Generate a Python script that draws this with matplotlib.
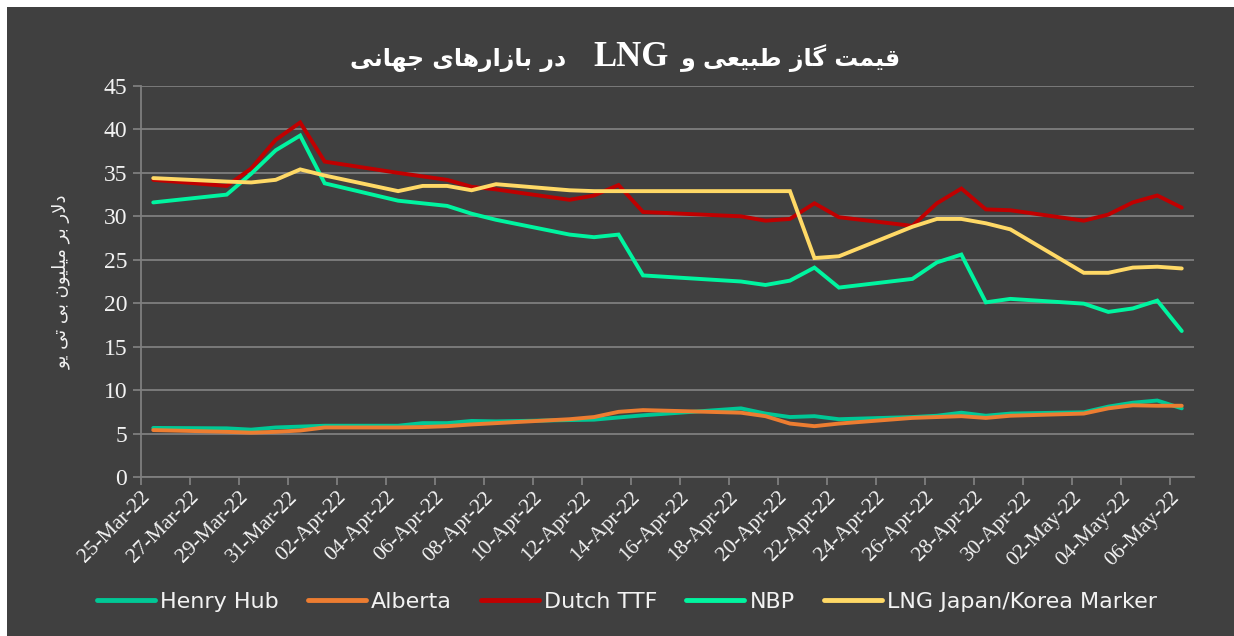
import numpy as np
import pandas as pd
import matplotlib
matplotlib.use("Agg")
import matplotlib.pyplot as plt
import matplotlib.dates as mdates
from matplotlib.patches import Rectangle

# trading days (15-Apr missing)
dates = ["2022-03-25", "2022-03-28", "2022-03-29", "2022-03-30", "2022-03-31", "2022-04-01",
         "2022-04-04", "2022-04-05", "2022-04-06", "2022-04-07", "2022-04-08",
         "2022-04-11", "2022-04-12", "2022-04-13", "2022-04-14",
         "2022-04-18", "2022-04-19", "2022-04-20", "2022-04-21", "2022-04-22",
         "2022-04-25", "2022-04-26", "2022-04-27", "2022-04-28", "2022-04-29",
         "2022-05-02", "2022-05-03", "2022-05-04", "2022-05-05", "2022-05-06"]

henry_hub = [5.65, 5.6, 5.45, 5.7, 5.8, 5.9, 5.9, 6.2, 6.2, 6.45, 6.4, 6.55, 6.6, 6.85, 7.1,
             7.9, 7.3, 6.9, 7.0, 6.65, 6.9, 7.05, 7.4, 7.05, 7.3, 7.45, 8.1, 8.55, 8.8, 7.9]
alberta = [5.4, 5.2, 5.1, 5.2, 5.35, 5.7, 5.7, 5.75, 5.85, 6.05, 6.2, 6.65, 6.9, 7.5, 7.7,
           7.4, 7.0, 6.15, 5.85, 6.15, 6.8, 6.9, 7.0, 6.8, 7.05, 7.3, 7.9, 8.25, 8.2, 8.2]
dutch_ttf = [34.2, 33.5, 35.5, 38.8, 40.8, 36.3, 35.0, 34.6, 34.2, 33.4, 33.1, 31.9, 32.4, 33.6, 30.5,
             30.0, 29.5, 29.7, 31.5, 29.9, 28.9, 31.5, 33.2, 30.8, 30.7, 29.5, 30.2, 31.6, 32.4, 31.0]
nbp = [31.6, 32.5, 34.9, 37.6, 39.3, 33.8, 31.8, 31.5, 31.2, 30.3, 29.6, 27.9, 27.6, 27.9, 23.2,
       22.5, 22.1, 22.6, 24.1, 21.8, 22.8, 24.7, 25.6, 20.1, 20.5, 19.95, 19.0, 19.4, 20.3, 16.8]
lng_jkm = [34.4, 34.0, 33.9, 34.2, 35.4, 34.7, 32.9, 33.5, 33.5, 33.0, 33.7, 33.0, 32.9, 32.9, 32.9,
           32.9, 32.9, 32.9, 25.2, 25.4, 28.8, 29.7, 29.7, 29.2, 28.5, 23.5, 23.5, 24.1, 24.2, 24.0]

series_names = ["Henry Hub", "Alberta", "Dutch TTF", "NBP", "LNG Japan/Korea Marker"]
colors = ["#00C896", "#ED7D31", "#C00000", "#00F5A0", "#FFD966"]

# title pieces: right-hand persian, latin middle, left-hand persian
title_right = "قیمت گاز طبیعی و"
title_mid = "LNG"
title_left = "در بازارهای جهانی"
ylabel_fa = "دلار بر میلیون بی تی یو"

# --- minimal persian shaping (matplotlib has no complex text layout) ---
# char: (isolated, final, initial, medial)
FORMS = {
    "ا": ("\uFE8D", "\uFE8E", None, None),
    "ب": ("\uFE8F", "\uFE90", "\uFE91", "\uFE92"),
    "ت": ("\uFE95", "\uFE96", "\uFE97", "\uFE98"),
    "ج": ("\uFE9D", "\uFE9E", "\uFE9F", "\uFEA0"),
    "د": ("\uFEA9", "\uFEAA", None, None),
    "ر": ("\uFEAD", "\uFEAE", None, None),
    "ز": ("\uFEAF", "\uFEB0", None, None),
    "ط": ("\uFEC1", "\uFEC2", "\uFEC3", "\uFEC4"),
    "ع": ("\uFEC9", "\uFECA", "\uFECB", "\uFECC"),
    "ق": ("\uFED5", "\uFED6", "\uFED7", "\uFED8"),
    "ل": ("\uFEDD", "\uFEDE", "\uFEDF", "\uFEE0"),
    "م": ("\uFEE1", "\uFEE2", "\uFEE3", "\uFEE4"),
    "ن": ("\uFEE5", "\uFEE6", "\uFEE7", "\uFEE8"),
    "ه": ("\uFEE9", "\uFEEA", "\uFEEB", "\uFEEC"),
    "و": ("\uFEED", "\uFEEE", None, None),
    "ی": ("\uFBFC", "\uFBFD", "\uFBFE", "\uFBFF"),
    "گ": ("\uFB92", "\uFB93", "\uFB94", "\uFB95"),
    "LA": ("\uFEFB", "\uFEFC", None, None),
}


def shape_word(word):
    chars = []
    i = 0
    while i < len(word):
        if word[i] == "ل" and i + 1 < len(word) and word[i + 1] == "ا":
            chars.append("LA")
            i += 2
        else:
            chars.append(word[i])
            i += 1
    out = []
    for i, c in enumerate(chars):
        iso, fin, ini, med = FORMS[c]
        prev_joins = i > 0 and FORMS[chars[i - 1]][2] is not None
        next_joins = i < len(chars) - 1 and ini is not None
        if prev_joins and next_joins:
            out.append(med)
        elif prev_joins:
            out.append(fin)
        elif next_joins:
            out.append(ini)
        else:
            out.append(iso)
    return "".join(reversed(out))


def rtl(text):
    words = []
    for w in text.split():
        if any(ch in FORMS for ch in w):
            words.append(shape_word(w))
        else:
            words.append(w)
    return " ".join(reversed(words))


bg = "#404040"
grid_c = "#7F7F7F"
txt_c = "#F2F2F2"

x = pd.to_datetime(dates) + pd.Timedelta(hours=12)

fig = plt.figure(figsize=(12.34, 6.36), dpi=100)
fig.patch.set_facecolor("white")
fig.patches.append(Rectangle((7 / 1234, 0), 1, 1 - 7 / 636, transform=fig.transFigure,
                             facecolor=bg, edgecolor="none", zorder=-10))

ax = fig.add_axes([141 / 1234, 1 - 477 / 636, (1194 - 141) / 1234, (477 - 86) / 636])
ax.set_facecolor(bg)

all_series = [henry_hub, alberta, dutch_ttf, nbp, lng_jkm]
for name, vals, c in zip(series_names, all_series, colors):
    ax.plot(x, vals, color=c, lw=2.8, label=name, solid_joinstyle="miter", solid_capstyle="round")

ax.set_ylim(0, 45)
ax.set_yticks(np.arange(0, 46, 5))
ax.set_xlim(pd.Timestamp("2022-03-25"), pd.Timestamp("2022-05-07"))
ax.set_xticks(pd.date_range("2022-03-25", "2022-05-06", freq="2D"))
ax.xaxis.set_major_formatter(mdates.DateFormatter("%d-%b-%y"))

ax.grid(axis="y", color=grid_c, lw=1.3)
ax.set_axisbelow(True)
for s in ["top", "right"]:
    ax.spines[s].set_visible(False)
for s in ["left", "bottom"]:
    ax.spines[s].set_color(grid_c)
    ax.spines[s].set_linewidth(1.3)

ax.tick_params(axis="both", colors=grid_c, length=6, width=1.3, direction="out")
ax.tick_params(axis="y", labelcolor=txt_c, labelsize=17, pad=4)
ax.tick_params(axis="x", labelcolor=txt_c, labelsize=15.5, pad=2)
for lab in ax.get_yticklabels():
    lab.set_family("Liberation Serif")
for lab in ax.get_xticklabels():
    lab.set_family("Liberation Serif")
    lab.set_rotation(45)
    lab.set_ha("right")
    lab.set_rotation_mode("anchor")

ax.set_ylabel(rtl(ylabel_fa), color=txt_c, fontsize=13, family="DejaVu Sans")
ax.yaxis.set_label_coords(-70 / 1053, 0.5)

title_y = 1 - 66 / 636
fig.text(631 / 1234, title_y, title_mid, ha="center", va="baseline", color="white",
         fontsize=25, fontweight="bold", family="Liberation Serif")
fig.text(681 / 1234, title_y, rtl(title_right), ha="left", va="baseline", color="white",
         fontsize=17, fontweight="bold", family="DejaVu Sans")
fig.text(566 / 1234, title_y, rtl(title_left), ha="right", va="baseline", color="white",
         fontsize=17, fontweight="bold", family="DejaVu Sans")

leg = fig.legend(loc="center", bbox_to_anchor=(627 / 1234, 1 - 602 / 636), ncol=5, frameon=False,
                 fontsize=16, handlelength=2.6, handletextpad=0.25, columnspacing=1.3)
for t in leg.get_texts():
    t.set_color(txt_c)
for h in leg.get_lines():
    h.set_linewidth(3.5)

fig.savefig("out.png", dpi=100, facecolor=fig.get_facecolor())
